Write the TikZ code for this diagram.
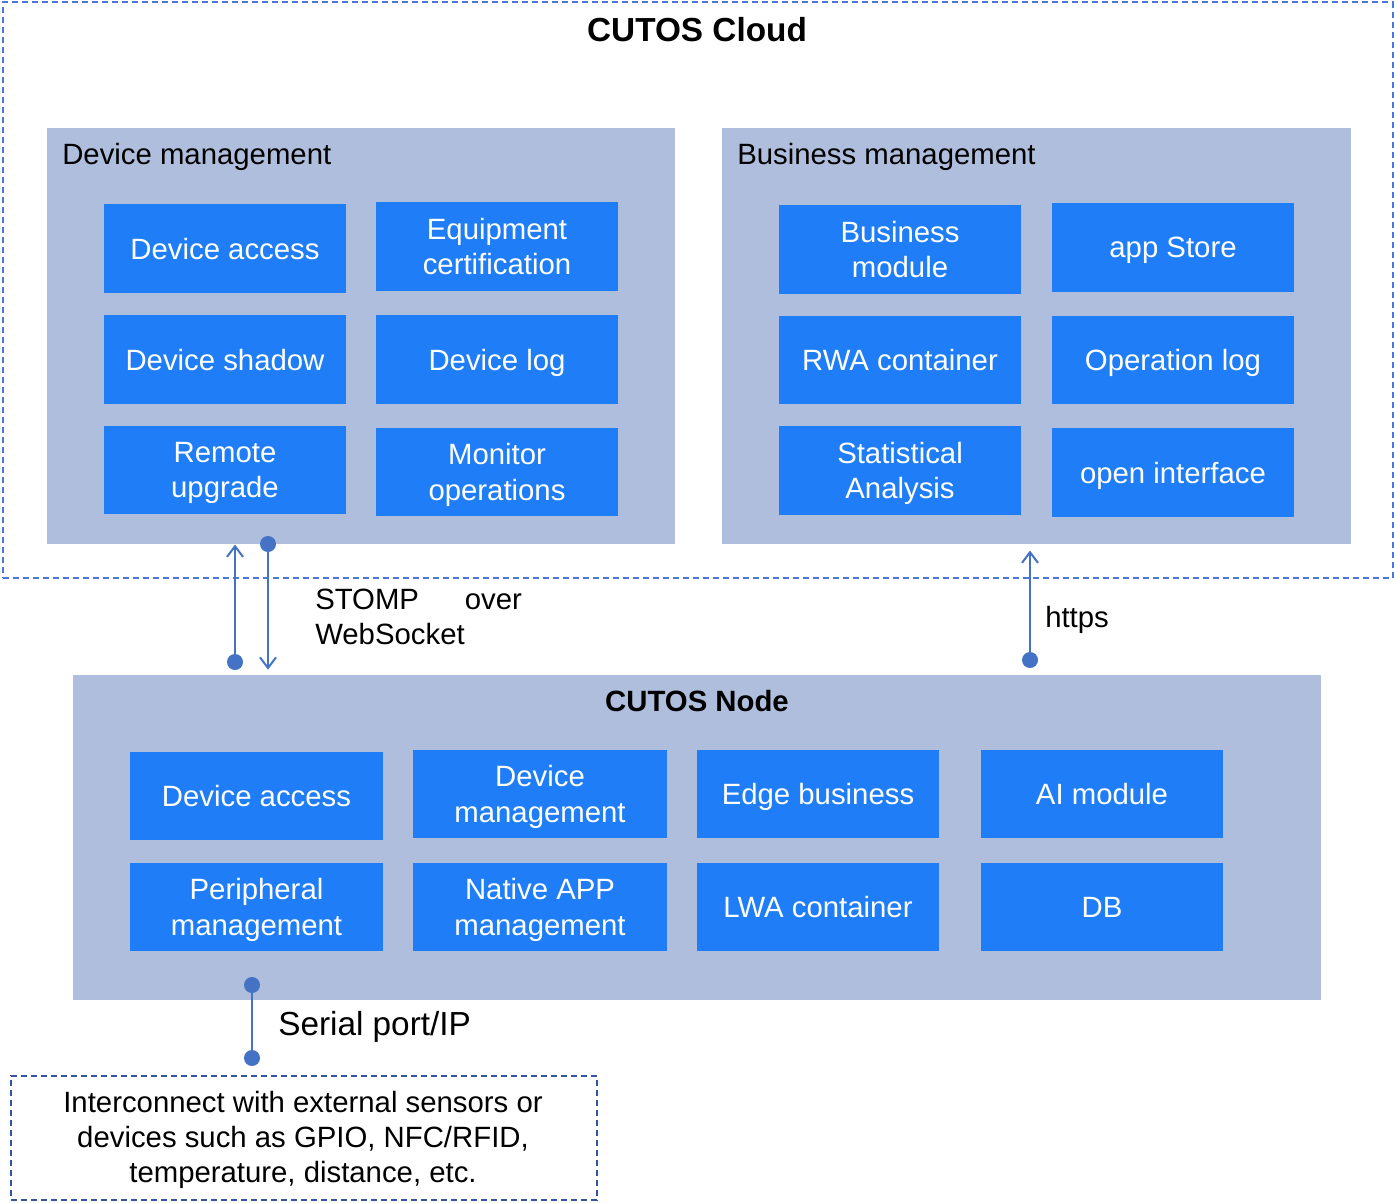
\documentclass[tikz,border=0pt]{standalone}
\usepackage{fontspec}
\setmainfont{Liberation Sans}
\usetikzlibrary{arrows.meta}

\definecolor{panelgray}{RGB}{175,190,220}
\definecolor{boxblue}{RGB}{31,126,247}
\definecolor{linkblue}{RGB}{68,114,196}
\definecolor{dashblue}{RGB}{74,120,214}
\definecolor{extblue}{RGB}{52,84,160}

\tikzset{
  panel/.style={fill=panelgray, anchor=north west, inner sep=0pt},
  module/.style={fill=boxblue, text=white, align=center, inner sep=0pt, text depth=0pt,
    minimum height=66.5pt, font=\fontsize{22}{26.5}\selectfont},
  paneltitle/.style={anchor=west, inner sep=0pt, text depth=0pt, font=\fontsize{22}{26.5}\selectfont},
  linktext/.style={anchor=west, inner sep=0pt, text depth=0pt, align=left, font=\fontsize{22}{26.5}\selectfont},
  link/.style={draw=linkblue, line width=1.5pt},
  linkarrow/.style={link, -{Straight Barb[length=8pt,width=12pt]}},
  dot/.style={circle, fill=linkblue, inner sep=0pt, minimum size=12pt},
}

\begin{document}
\begin{tikzpicture}[x=0.75pt,y=0.75pt,yscale=-1,xscale=1]
\useasboundingbox (0,0) rectangle (1394,1202);

%Shape: cloud frame
\node[draw=dashblue, line width=1.5pt, dash pattern=on 4.5pt off 3pt, anchor=north west,
  inner sep=0pt, minimum width=1042.5pt, minimum height=431.5pt] (cloud) at (1.5,1.5) {};
\node[font=\fontsize{25}{30}\bfseries] (cloudtitle) at (697,30) {CUTOS Cloud};

%Shape: device management panel
\node[panel, minimum width=471pt, minimum height=312pt] (dm) at (47,128) {};
\node[paneltitle] (dmtitle) at (62,154) {Device management};
\node[module, minimum width=181.5pt] (dmaccess) at (225,248.5) {Device access};
\node[module, minimum width=181.5pt] (dmcert) at (497,246.5) {Equipment\\certification};
\node[module, minimum width=181.5pt] (dmshadow) at (225,359.5) {Device shadow};
\node[module, minimum width=181.5pt] (dmlog) at (497,359.5) {Device log};
\node[module, minimum width=181.5pt] (dmupgrade) at (225,470) {Remote\\upgrade};
\node[module, minimum width=181.5pt] (dmmonitor) at (497,472) {Monitor\\operations};

%Shape: business management panel
\node[panel, minimum width=471.75pt, minimum height=312pt] (bm) at (722,128) {};
\node[paneltitle] (bmtitle) at (737,154) {Business management};
\node[module, minimum width=181.5pt] (bmmodule) at (900,249.5) {Business\\module};
\node[module, minimum width=181.5pt] (bmstore) at (1173,247.5) {app Store};
\node[module, minimum width=181.5pt] (bmrwa) at (900,360) {RWA container};
\node[module, minimum width=181.5pt] (bmlog) at (1173,360) {Operation log};
\node[module, minimum width=181.5pt] (bmstat) at (900,470.5) {Statistical\\Analysis};
\node[module, minimum width=181.5pt] (bmopen) at (1173,472.5) {open interface};

%Shape: node panel
\node[panel, minimum width=936pt, minimum height=243.75pt] (cn) at (73,675) {};
\node[font=\fontsize{22}{26.5}\bfseries] (cntitle) at (697,701) {CUTOS Node};
\node[module, minimum width=189.75pt] (cnaccess) at (256.5,796) {Device access};
\node[module, minimum width=190.5pt] (cnmgmt) at (540,794) {Device\\management};
\node[module, minimum width=181.5pt] (cnedge) at (818,794) {Edge business};
\node[module, minimum width=181.5pt] (cnai) at (1102,794) {AI module};
\node[module, minimum width=189.75pt] (cnperiph) at (256.5,907) {Peripheral\\management};
\node[module, minimum width=190.5pt] (cnnative) at (540,907) {Native APP\\management};
\node[module, minimum width=181.5pt] (cnlwa) at (818,907) {LWA container};
\node[module, minimum width=181.5pt] (cndb) at (1102,907) {DB};

%Shape: external devices
\node[draw=extblue, line width=1.2pt, dash pattern=on 4.5pt off 3pt, anchor=north west,
  inner sep=0pt, minimum width=439.5pt, minimum height=93pt] (ext) at (10,1075) {};
\node[align=center, text depth=0pt, font=\fontsize{22}{26.5}\selectfont] (exttext) at (303,1137)
  {Interconnect with external sensors or\\devices such as GPIO, NFC/RFID,\\temperature, distance, etc.};

%Straight Lines: links
\node[dot] (upA) at (235,662) {};
\draw[linkarrow] (upA.center) -- (upA |- dm.south);
\node[dot] (downA) at (268,544) {};
\draw[linkarrow, shorten >=4pt] (downA.center) -- (downA |- cn.north);
\node[dot] (httpsA) at (1030,660) {};
\draw[linkarrow, shorten >=4.5pt] (httpsA.center) -- (httpsA |- bm.south);
\node[dot] (serA) at (252,985) {};
\node[dot] (serB) at (252,1058) {};
\draw[link] (serA.center) -- (serB.center);

% Text Node
\node[linktext] (stomp) at (315,617) {\makebox[155pt][s]{STOMP over}\\WebSocket};
% Text Node
\node[linktext] (https) at (1045,617) {https};
% Text Node
\node[linktext, font=\fontsize{25}{30}\selectfont] (serial) at (278,1023) {Serial port/IP};

\end{tikzpicture}
\end{document}
